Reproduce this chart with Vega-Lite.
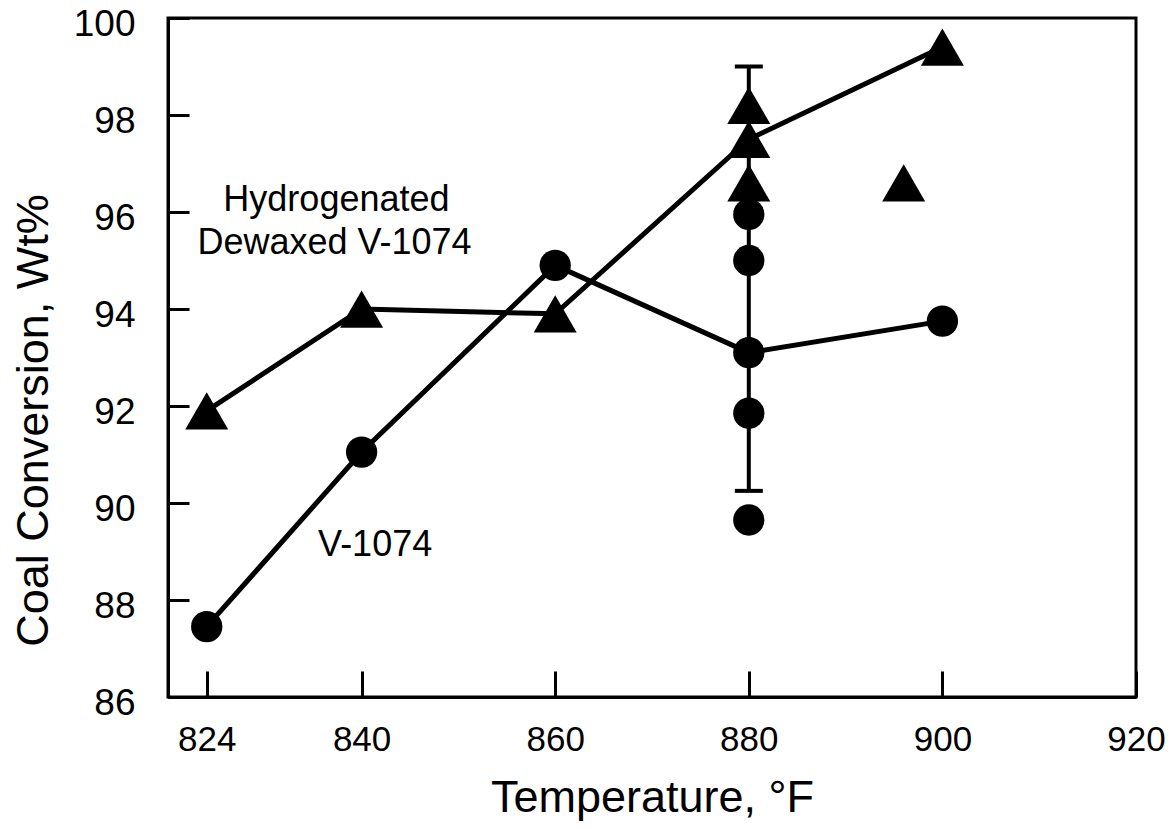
{
  "$schema": "https://vega.github.io/schema/vega-lite/v6.json",
  "width": 968,
  "height": 679,
  "autosize": {"type": "none"},
  "padding": {"left": 168, "top": 18, "right": 37, "bottom": 132},
  "background": "white",
  "config": {
    "view": {"stroke": "black", "strokeWidth": 3},
    "axis": {"grid": false, "domainColor": "black", "domainWidth": 3, "tickColor": "black", "tickWidth": 3, "labelColor": "black", "titleColor": "black"}
  },
  "datasets": {
    "pts": [
      {"T": 824, "conv": 91.9, "series": "Hydrogenated Dewaxed V-1074", "online": true},
      {"T": 840, "conv": 94.0, "series": "Hydrogenated Dewaxed V-1074", "online": true},
      {"T": 860, "conv": 93.9, "series": "Hydrogenated Dewaxed V-1074", "online": true},
      {"T": 880, "conv": 98.2, "series": "Hydrogenated Dewaxed V-1074", "online": false},
      {"T": 880, "conv": 97.5, "series": "Hydrogenated Dewaxed V-1074", "online": true},
      {"T": 880, "conv": 96.6, "series": "Hydrogenated Dewaxed V-1074", "online": false},
      {"T": 896, "conv": 96.6, "series": "Hydrogenated Dewaxed V-1074", "online": false},
      {"T": 900, "conv": 99.4, "series": "Hydrogenated Dewaxed V-1074", "online": true},
      {"T": 824, "conv": 87.45, "series": "V-1074", "online": true},
      {"T": 840, "conv": 91.05, "series": "V-1074", "online": true},
      {"T": 860, "conv": 94.9, "series": "V-1074", "online": true},
      {"T": 880, "conv": 93.1, "series": "V-1074", "online": true},
      {"T": 880, "conv": 95.95, "series": "V-1074", "online": false},
      {"T": 880, "conv": 95.0, "series": "V-1074", "online": false},
      {"T": 880, "conv": 91.85, "series": "V-1074", "online": false},
      {"T": 880, "conv": 89.65, "series": "V-1074", "online": false},
      {"T": 900, "conv": 93.75, "series": "V-1074", "online": true}
    ],
    "err": [{"T": 880, "lo": 90.25, "hi": 99.0}],
    "notes": [
      {"T": 837.4, "conv": 96.25, "label": "Hydrogenated"},
      {"T": 837.2, "conv": 95.36, "label": "Dewaxed V-1074"},
      {"T": 841.4, "conv": 89.13, "label": "V-1074"}
    ]
  },
  "encoding": {
    "x": {
      "field": "T", "type": "quantitative",
      "scale": {"domain": [820, 920], "nice": false, "zero": false},
      "axis": {
        "title": "Temperature, °F",
        "values": [824, 840, 860, 880, 900, 920],
        "tickSize": -26,
        "labelFont": "Liberation Sans, Arial, sans-serif",
        "labelFontSize": 35,
        "labelPadding": 51,
        "labelBaseline": "top",
        "labelFlush": false,
        "titleFont": "Liberation Sans, Arial, sans-serif",
        "titleFontSize": 45,
        "titleFontWeight": "normal",
        "titleBaseline": "alphabetic",
        "titleY": 114
      }
    },
    "y": {
      "field": "conv", "type": "quantitative",
      "scale": {"domain": [86, 100], "nice": false, "zero": false},
      "axis": {
        "title": "Coal Conversion, Wt%",
        "values": [86, 88, 90, 92, 94, 96, 98, 100],
        "tickSize": -21,
        "labelFont": "Liberation Sans, Arial, sans-serif",
        "labelFontSize": 37,
        "labelPadding": 54,
        "labelOffset": 6,
        "labelFlush": false,
        "titleFont": "Liberation Sans, Arial, sans-serif",
        "titleFontSize": 45,
        "titleFontWeight": "normal",
        "titleAngle": 270,
        "titleBaseline": "alphabetic",
        "titleAlign": "center",
        "titleX": -121,
        "titleY": 402
      }
    }
  },
  "layer": [
    {
      "data": {"name": "pts"},
      "transform": [{"filter": "datum.online"}],
      "mark": {"type": "line", "color": "black", "strokeWidth": 5},
      "encoding": {"detail": {"field": "series"}}
    },
    {
      "data": {"name": "err"},
      "mark": {"type": "rule", "color": "black", "strokeWidth": 4},
      "encoding": {"y": {"field": "lo", "type": "quantitative"}, "y2": {"field": "hi"}}
    },
    {
      "data": {"name": "err"},
      "mark": {"type": "tick", "color": "black", "opacity": 1, "orient": "horizontal", "size": 28, "thickness": 4},
      "encoding": {"y": {"field": "lo", "type": "quantitative"}}
    },
    {
      "data": {"name": "err"},
      "mark": {"type": "tick", "color": "black", "opacity": 1, "orient": "horizontal", "size": 28, "thickness": 4},
      "encoding": {"y": {"field": "hi", "type": "quantitative"}}
    },
    {
      "data": {"name": "pts"},
      "transform": [{"filter": "datum.series === 'Hydrogenated Dewaxed V-1074'"}],
      "mark": {"type": "point", "shape": "triangle-up", "filled": true, "color": "black", "opacity": 1, "size": 1850}
    },
    {
      "data": {"name": "pts"},
      "transform": [{"filter": "datum.series === 'V-1074'"}],
      "mark": {"type": "point", "shape": "circle", "filled": true, "color": "black", "opacity": 1, "size": 980}
    },
    {
      "data": {"name": "notes"},
      "mark": {"type": "text", "font": "Liberation Sans, Arial, sans-serif", "fontSize": 36, "align": "center", "baseline": "middle", "color": "black"},
      "encoding": {"text": {"field": "label"}}
    }
  ]
}
